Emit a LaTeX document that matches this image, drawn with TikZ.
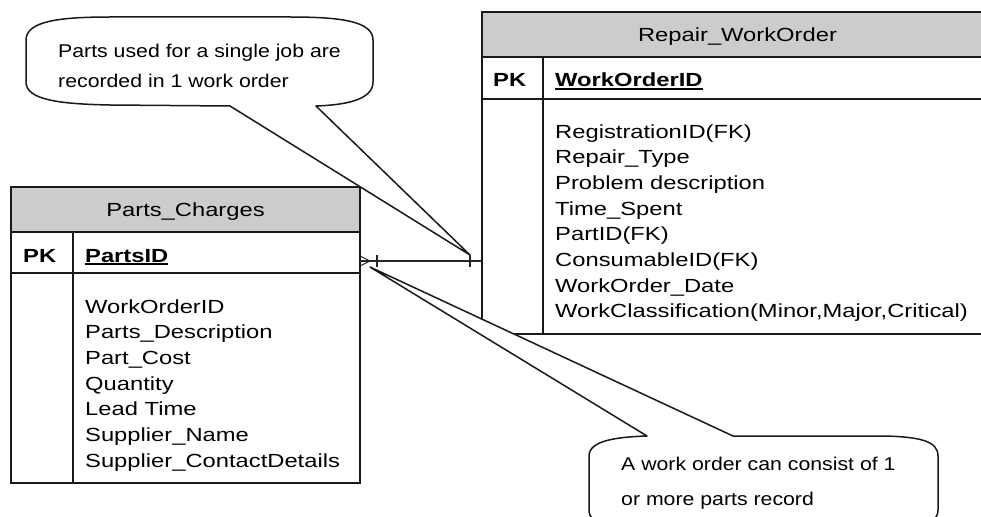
\documentclass[tikz,border=0pt]{standalone}
\usepackage{fontspec}
\setmainfont{Liberation Sans}[FakeStretch=1.25]
\newfontfamily\notefont{Liberation Sans}[FakeStretch=1.15]
\definecolor{headgray}{HTML}{CCCCCC}
\newcommand{\keyfield}[1]{\setbox0\hbox{#1}\rlap{\rule[-2.6pt]{\wd0}{1.4pt}}\box0}

\tikzset{
  tbl/.style={line width=1.8pt, draw=black!90},
  rel/.style={line width=1.1pt, draw=black!85},
  field/.style={inner sep=0pt, anchor=base west, align=left, font=\fontsize{19}{25.7}\selectfont},
  title/.style={inner sep=0pt, anchor=base, font=\fontsize{19}{25.7}\selectfont},
  callout/.style={line width=1.5pt, draw=black!90, fill=white, line join=round},
  note/.style={inner sep=0pt, anchor=base west, align=left},
}

\begin{document}
\begin{tikzpicture}[x=1pt,y=-1pt]
    	        \useasboundingbox (0,0) rectangle (981,516);
    	        \clip (0,0) rectangle (981,516);
    	        % Parts_Charges table
    	        \draw[tbl,fill=headgray] (11,187) rectangle (360,232);
    	        \draw[tbl] (11,232) rectangle (360,483);
    	        \draw[tbl] (11,273) -- (360,273);
    	        \draw[tbl] (73,232) -- (73,483);
    	        \node[title] (pc-title) at (185.5,216) {Parts\_Charges};
    	        \node[field] (pc-pk) at (23,262) {\bfseries PK};
    	        \node[field] (pc-key) at (85,262) {\bfseries\keyfield{PartsID}};
    	        % (multi-line text sits on its last baseline)
    	        \node[field] (pc-attrs) at (85,467.2) {WorkOrderID\\Parts\_Description\\Part\_Cost\\Quantity\\Lead Time\\Supplier\_Name\\Supplier\_ContactDetails};
    	        % Repair_WorkOrder table
    	        \draw[tbl,fill=headgray] (482,12) rectangle (993,57);
    	        \draw[tbl] (482,57) rectangle (993,334);
    	        \draw[tbl] (482,99) -- (993,99);
    	        \draw[tbl] (543,57) -- (543,334);
    	        \node[title] (rwo-title) at (737.5,42) {Repair\_WorkOrder};
    	        \node[field] (rwo-pk) at (493,87) {\bfseries PK};
    	        \node[field] (rwo-key) at (555,87) {\bfseries\keyfield{WorkOrderID}};
    	        \node[field] (rwo-attrs) at (555,317.9) {RegistrationID(FK)\\Repair\_Type\\Problem description\\Time\_Spent\\PartID(FK)\\ConsumableID(FK)\\WorkOrder\_Date\\WorkClassification(Minor,Major,Critical)};
    	        % Callout for Repair_WorkOrder side
    	        \coordinate (note1-tip) at (470,255);
    	        \draw[callout] (26,40) .. controls (26,21) and (60,17) .. (110,17) -- (290,17) .. controls (340,17) and (373,21) .. (373,40) -- (373,82) .. controls (373,100) and (345,105) .. (316,106) -- (note1-tip) -- (230,106) -- (110,105) .. controls (60,104) and (26,100) .. (26,82) -- cycle;
    	        \node[note,font=\notefont\fontsize{18.5}{30}\selectfont] (note1) at (58,88) {Parts used for a single job are\\recorded in 1 work order};
    	        % Callout for Parts_Charges side
    	        \coordinate (note2-tip) at (370,267);
    	        \draw[callout] (589,510) -- (589,456) .. controls (589,441) and (615,437) .. (647,436) -- (note2-tip) -- (733,436) -- (885,436) .. controls (920,437) and (938,441) .. (938,456) -- (938,510) .. controls (938,525) and (915,530) .. (880,530) -- (650,530) .. controls (610,530) and (589,525) .. (589,510) -- cycle;
    	        \node[note,font=\notefont\fontsize{18.5}{35.5}\selectfont] (note2) at (621,505.5) {A work order can consist of 1\\or more parts record};
    	        % Relationship: many parts to one work order
    	        \coordinate (pc-link) at (360,261);
    	        \coordinate (rwo-link) at (482,261);
    	        \draw[rel] (pc-link) -- (rwo-link);
    	        \draw[rel] ([yshift=5pt]pc-link) -- ([xshift=10pt]pc-link) -- ([yshift=-5pt]pc-link);
    	        \draw[rel] ([xshift=17pt]pc-link) ++(0,-6) -- ++(0,12);
    	        \draw[rel] ([xshift=-12pt]rwo-link) ++(0,-6) -- ++(0,12);
    	    \end{tikzpicture}
\end{document}
